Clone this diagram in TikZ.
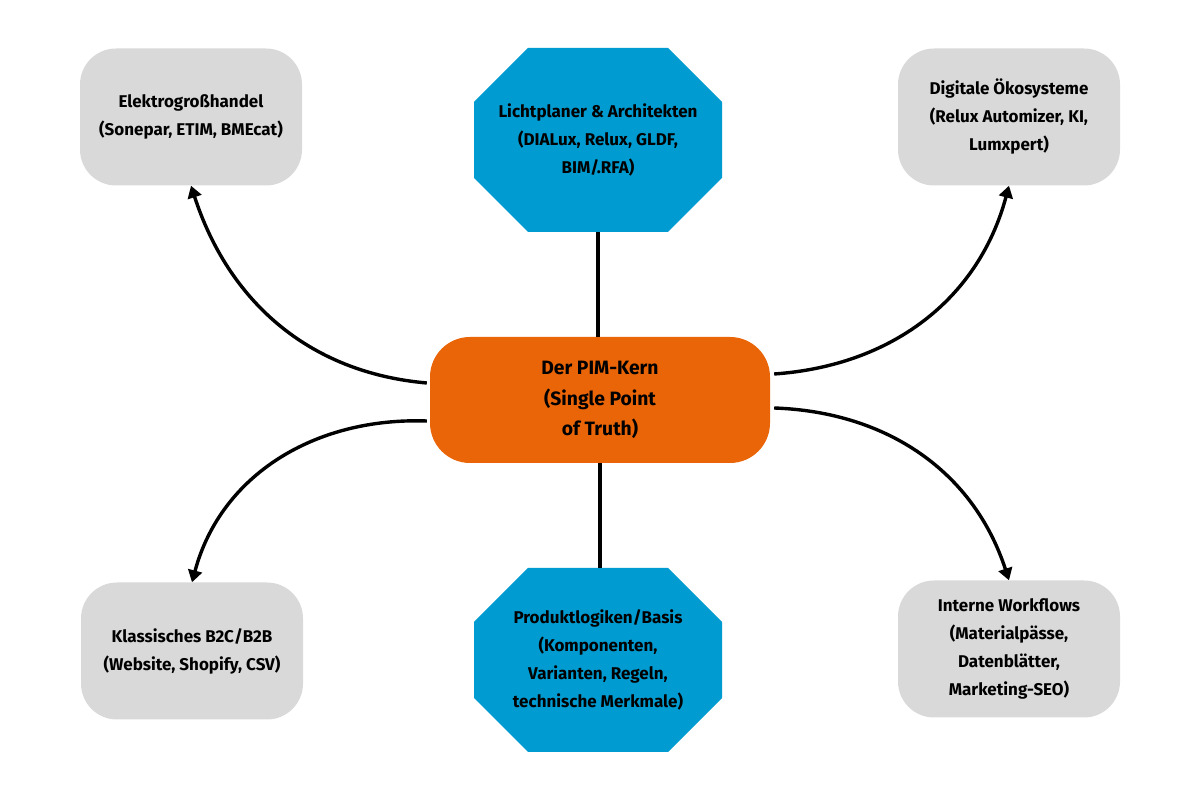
\documentclass[tikz,border=0pt]{standalone}
\usepackage{fontspec}
\setmainfont{Fira Sans}
\usetikzlibrary{arrows.meta,calc}
\definecolor{corange}{RGB}{234,101,8}
\definecolor{cblue}{RGB}{0,155,208}
\definecolor{cgray}{RGB}{217,217,217}
\tikzset{
  txt/.style={align=center,font=\fontsize{17}{28}\selectfont\bfseries,text=black,inner sep=0pt},
  graybox/.style={txt,fill=cgray,rounded corners=36pt,minimum width=222pt,minimum height=137pt},
  corebox/.style={align=center,font=\fontsize{19.3}{30.5}\selectfont\bfseries,text=black,inner sep=0pt,
    fill=corange,rounded corners=40pt,minimum width=340pt,minimum height=126pt},
  octobox/.style={txt,minimum width=248pt,minimum height=184pt,
    path picture={\fill[cblue]
      ($(path picture bounding box.north west)+(54pt,0)$) --
      ($(path picture bounding box.north east)+(-54pt,0)$) --
      ($(path picture bounding box.north east)+(0,-54pt)$) --
      ($(path picture bounding box.south east)+(0,54pt)$) --
      ($(path picture bounding box.south east)+(-54pt,0)$) --
      ($(path picture bounding box.south west)+(54pt,0)$) --
      ($(path picture bounding box.south west)+(0,54pt)$) --
      ($(path picture bounding box.north west)+(0,-54pt)$) -- cycle;}},
  link/.style={line width=3.4pt,draw=black},
  arr/.style={link,-{Triangle[length=12pt,width=14pt]}}
}
\begin{document}
\begin{tikzpicture}[x=1pt,y=1pt]
\useasboundingbox (0,0) rectangle (1200,800);
\node[corebox] (c) at (600,400) {Der PIM-Kern\\(Single Point\\ of Truth)};
\node[octobox] (top) at (598,660) {Lichtplaner \& Architekten\\(DIALux, Relux, GLDF,\\BIM/.RFA)};
\node[octobox] (bot) at (598,140) {Produktlogiken/Basis\\(Komponenten,\\Varianten, Regeln,\\technische Merkmale)};
\node[graybox] (tl) at (191,683) {Elektrogroßhandel\\(Sonepar, ETIM, BMEcat)};
\node[graybox] (tr) at (1009,683) {Digitale Ökosysteme\\(Relux Automizer, KI,\\Lumxpert)};
\node[graybox] (bl) at (192,149) {Klassisches B2C/B2B\\(Website, Shopify, CSV)};
\node[graybox] (br) at (1009,151) {Interne Workflows\\(Materialpässe,\\Datenblätter,\\Marketing-SEO)};
\coordinate (sTL) at ($(c.west)+(-3,17)$);
\coordinate (sBL) at ($(c.west)+(-3,-21)$);
\coordinate (sTR) at ($(c.east)+(4,26)$);
\coordinate (sBR) at ($(c.east)+(4,-8)$);
\draw[link] (top.south) -- (top.south |- c.north);
\draw[link] (c.south) -- (c.south |- bot.north);
\draw[arr] (sTL) to[out=175,in=-72] (tl.south);
\draw[arr] (sBL) to[out=178,in=75] (bl.north);
\draw[arr] (sTR) to[out=4,in=-105] (tr.south);
\draw[arr] (sBR) to[out=-2,in=108] (br.north);
\end{tikzpicture}
\end{document}
